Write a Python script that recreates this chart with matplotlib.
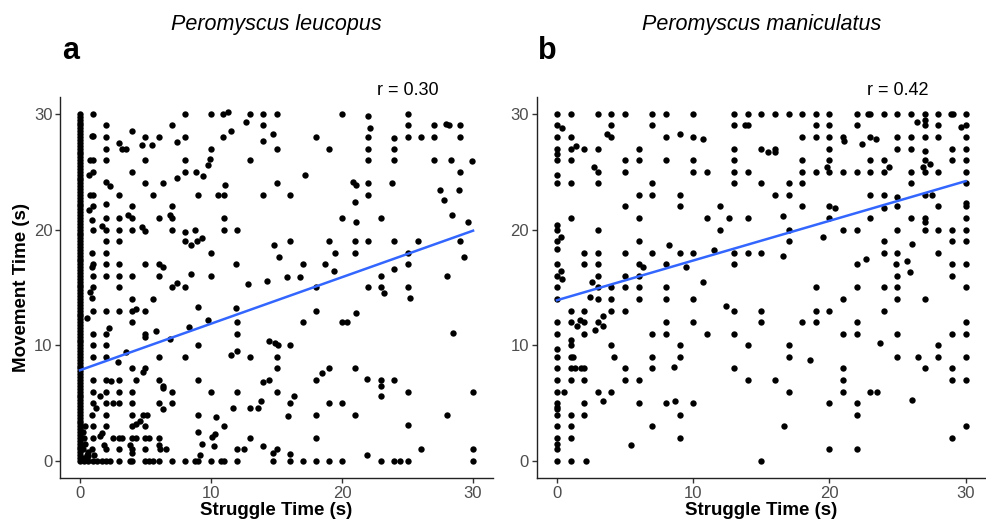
import numpy as np, matplotlib; matplotlib.use('Agg'); import matplotlib.pyplot as plt
plt.rcParams['font.family'] = ['Liberation Sans', 'DejaVu Sans']

# P. leucopus: (struggle s, movement s)
leuco_col0 = [i * 0.25 for i in range(121)]   # dense column at x=0
leuco_pts = [
 (1,30),(8,30),(10,30),(10.9,30),(11.3,30.2),(13,30),(14,30),(12.7,29.3),(2,29),(7,29),(14,29),
 (0.9,28.1),(1,28.1),(2,28),(3.95,28.5),(5,28),(6,28),(8,28),(10.9,28),(11.5,28.5),(14,27.7),
 (3,27.5),(2,27),(3.2,27),(3.5,27),(4.7,27.3),(5.5,27.3),(7.4,27.6),(10,27),
 (1,26),(0.8,26),(2,26),(5,26),(8,26),(9.9,26.1),(13,26),(9.8,25.6),
 (1,25),(0.7,24.7),(4,25),(8,25),(7.4,24.5),(8.85,25),(9.4,24.6),
 (2,24.1),(2.3,23.8),(5,24),(6.3,24),(11.1,23.9),
 (1,23),(0.8,23),(3,23),(5.6,23),(9,23),(10.5,23),(11,23),(14,23),
 (1,22),(2,22.2),(0.7,21.7),(4,22),(7,22),
 (0.9,20.8),(2,21),(3,21),(3.7,21.3),(4,21),(6,21),(6.9,21.3),(7,21),(11,21),
 (1,20),(1.7,20.3),(2,20),(3,20),(4,20),(4.7,20.2),(5,19.9),(7,20),(8,19.8),(8.8,20),(11,20),(12,20),
 (2,19),(3,19),(8,19),(8.5,18.7),(8.95,19),(9.35,19.3),(0.9,18),(2,18),(10,18),
 (1,17),(0.9,16.8),(2,17),(3,17),(5,17),(6,17),(6.3,16.8),(11.9,17),
 (1,16),(2,16),(3,16),(4,16),(6,16),(8.5,16.2),(10,16),(14.25,15.6),(12.8,15.3),
 (1,15),(3,15),(7,15),(7.4,15.4),(8,15),
 (15,30),(20,30),(25,30),(22,29.8),(22.1,28.8),(25,29),(27,29),(27.9,29.1),(28.2,29),(29,29),
 (14.75,28.3),(18,28),(22,28),(24,27.9),(25,28),(26,28),(27,28),(29,28),
 (15,27),(19,27),(22,27),(24,27),(22,26),(24,26),(27,26),(28.3,26),(29.9,25.9),
 (29,25),(17.2,24.7),(15,24),(20.8,24.1),(21.1,23.9),(22,24),(23.8,24),
 (27.5,23.4),(28.9,23.4),(16,23),(22,23),(27.8,22.6),(21,22.4),(28.4,21.3),
 (20,21),(23,21),(29.6,20.7),(21.1,20.7),
 (16,19),(19,19),(21,19),(22,19),(24,19),(25.8,19),(29,19),(14.8,18.7),
 (19.5,18),(21,18),(25,18),(15.2,17.6),(29.3,17.6),(17,17),(18.7,17),(25,17),
 (24,16.6),(19.4,16.4),(23,16),(28,16),(15.8,15.9),(16.8,15.9),
 (18,15),(22,15),(23,15),(25,15),
 (0.8,14.6),(0.9,14.1),(4,14),(5.6,14),(9,13.3),(11.9,13.2),
 (1,13),(2,13),(3,13),(4,13),(4.3,13.1),(5,13),(0.5,12.4),(9.75,12.2),(4,12),(12,12),
 (8.3,11.6),(2.2,11.5),(1,11),(2,11),(5,11),(5.8,11.2),(12,11),
 (4.95,10.7),(6.9,10.55),(14.4,10.4),(1,10),(2,10),(9,10),
 (12,9.5),(11.5,9.2),(3.5,9.4),(1,9),(2,9),(6,9),(8,9),(13,9),(2.9,8.6),
 (4,8),(5,8),(4.8,7.7),(1,7),(2,7),(2.4,6.9),(3,7),(4.3,7),(6,7),(9,7),(14,6.8),
 (6.3,6.5),(6.35,6.3),(1,6),(2,6),(3,6),(4,6),(7,6),(10,6),(12,6),(1.5,5.6),(13.85,5.2),
 (1,5),(2,5),(2.5,5),(3,5),(4,5),(6,5),(7,5),
 (1.2,4.6),(6.3,4.5),(11.7,4.6),(13,4.6),(13.6,4.6),
 (0.9,4),(2,4),(4,4),(4.8,4),(5.1,4),(9,4),(10.4,3.8),
 (4.6,3.5),(4.3,3.2),(4,3),(1,3),(2,3),(5,3),(11,3),
 (9,2.5),(1.7,2.4),(1.5,2.2),(10.3,2.3),(10.1,2.05),
 (1,2),(2.5,2),(3,2),(3.2,2),(4,2),(4.3,2),(5,2),(5.3,2),(6,2),(13,2),
 (9.35,1.5),(10.2,1.3),(14,1.3),(1.8,1.4),(3.8,1.4),(6,1.4),
 (0.9,1),(2,1),(3,1),(4,1),(5,1),(6.1,1),(6.6,1),(12,1),(12.5,1),(9.15,0.5),
 (4,0.7),(0.5,0.5),(1.1,0.5),
 (0.3,0),(0.6,0),(1,0),(1.3,0),(1.7,0),(2,0),(2.3,0),(3,0),(3.8,0),(4,0),(5,0),(5.3,0),
 (5.6,0),(6,0),(7,0),(8,0),(8.8,0),(9,0),(10,0),(10.8,0),(11,0),(12,0),
 (0.3,0.3),(0.6,0.4),(0.2,1),(0.4,1.5),(0.3,2),(0.6,0.8),(0.2,2.5),(0.4,3),(0.2,0.2),
 (23.2,14.5),(25.2,14.1),(18,13),(21.1,12.8),(17,12),(20,12),(20.4,12),(28.5,11.1),
 (14.9,10.2),(15.1,10),(16,10),(15,9),(15,8),(19,8),(21,8),(18.5,7.6),(21.9,7.1),
 (14.4,7),(18,7),(23,7),(24,7),(23,6.5),(15,6),(25,6),(30,6),(16.3,5.6),(23,5.6),
 (16,5),(19,5),(20,5),(15.9,3.9),(18,4),(21,4),(28,4),(25,3.1),(18,2),
 (15,1),(26,1),(30,1),(14.75,0.7),(16,0.6),(21.9,0.5),
 (14.75,0),(16,0),(17,0),(18,0),(19,0),(20,0),(23,0),(24,0),(24.4,0),(25,0),(30,0),
]

# P. maniculatus, panel b
manic_pts = [
 (0,30),(1,30),(3,30),(4,30),(5,30),(7,30),(8,30),(10,30),(13,30),(14,30),
 (0,29),(0.4,28.8),(4,29),(7,29),(13,29),(13.8,29),(14,29),
 (0,28),(1,28),(3.65,28.3),(4,28),(8,28),(9,28.3),(10,28),(10.75,27.8),
 (0,27),(1,27),(1.4,27.2),(2,27),(3,27),(6,27),(13,27),(0,26.5),
 (0,26),(1,26),(5,26),(6,26),(8,26),(10,26),(13,26),(2.7,25.4),
 (3,25),(5,25),(10,25),(11,25),(13,25),(14,25),(0,24.7),
 (0,24),(1,24),(3,24),(7,24),(13,24),(6,23),(7,23),(9,23),(5,22),(9,22),(12,22),
 (1,21),(6,21),(11,21),(12.6,21),(14,21),(0,20.4),(0,20),(3,20),(12,20),
 (0.3,19.4),(0,19),(6,19),(8.2,18.7),
 (0,18.3),(2,18),(3,18),(5,18),(7,18),(9,18),(10,18),(11.5,18.2),(13,18),(14,18),
 (0,17),(2,17),(3,17),(6,17),(6.35,16.8),(8,17),(9.5,16.8),(13,17),
 (0.3,16.4),(0,16),(0.4,15.7),(3,16),(5,16),(6,16),(2.55,15.5),(10.7,15.5),
 (0,15),(3,15),(4,15),(5,15),(6,15),(8,15),
 (15,30),(16,30),(17,30),(18,30),(19,30),(20,30),(22,30),(22.8,30),(23,30),(24,30),(25,30),
 (26,30),(27,30),(28,30),(28.9,30),(29.1,30),(30,30),
 (19,29),(20,29),(22,29),(26.4,29.3),(27,29.5),(27,29),(28,29),(29.7,28.9),(30,29),
 (18,28),(19,28),(20,28),(21,28),(21.1,27.7),(23,28),(23.4,27.8),(25,28),(26,28),(27,28),(28,28),(30,28),
 (22.4,27.4),(15,27),(16,27),(15.5,26.7),(16,26.7),(20,27),(25,27),(26,27),(29,27),(30,27),(27,26.8),
 (18,26),(20,26),(23,26),(24,26),(27,26),(29,26),(30,26),(27.4,25.7),
 (19.8,25.4),(24.4,25.4),(26.9,25.4),
 (18,25),(19,25),(20,25),(21,25),(22,25),(23,25),(24,25),(26,25),(27,25),(28,25),(30,25),
 (15,24),(17,24),(18,24),(26,24),(30,24),(16,23),(17,23),(23,23),(24,23),(27,23),(27.5,23),(25,22.8),
 (18,22),(20,22),(20.4,21.9),(24,21.9),(25,22),(28,22),(30,22.3),(30,22),
 (16.6,21.2),(20,21),(23,21),(26,21),(27,21),(27,20.7),(30,21),
 (17,20),(21,20),(22,20),(25,20),(27,20),(28,20),(29,20),(30,20),(19.5,19.4),
 (17,19),(24,19),(29,19),(30,19),(26.1,18.8),(15,18),(24,18),(25,18),(28,18),
 (16.6,17.7),(22.7,17.5),(25.7,17.3),(22,17),(24.9,17),(29,17),(30,17),
 (25.9,16.3),(25,16),(29,16),(19,15),(22,15),(24,15),(25,15),(30,15),
 (0,14),(2.45,14.15),(3,14),(4,14),(6,14),(8,14),(10,14),(12.4,13.4),(13,13),
 (1,13),(2,13),(4,13),(5,13),(3.4,12.5),(1.7,12.2),
 (0,12),(1,12),(2,12),(3,12),(8,12),(10,12),(1.5,11.7),(3.4,11.7),(2.8,11.3),
 (0,11),(2,11),(7,11),(8,11),(11,11),(13,11),(1.05,10.5),(1,10),(4,10),(9,10),(14,10),(0,9.7),
 (0,9),(1,9),(1.2,9),(4.2,9),(7,9),(9,9),
 (0,8),(1,8),(1.3,8),(1.8,8),(2,8),(5,8),(7,8),(8.6,8.15),(13,8),
 (0,7),(1,7),(2,7),(5,7),(6,7),(14,7),(0,6),(0.5,6),(3,6),(4,6),(3.4,5.2),(8.7,5.2),
 (0,5),(2,5),(6,5),(8,5),(10,5),(0,4.7),(0,4.5),(0,4),(1,4),(2,4),(9,4),
 (0,3),(1,3),(7,3),(0,2),(1,2),(9,2),(0,1.5),(5.45,1.4),(0,1),(0,0),(1,0),(2.1,0),
 (21,14),(25,14),(27,14),(15,13),(19,13),(20,13),(24,13),
 (15,12),(18,12),(19,12),(22,12),(30,12),(21,11),(22,11),(25,11),(29,11),(30,11),
 (17,10),(23.7,10.2),(28,10),(17,9),(18.6,8.7),(25,9),(26.5,9),(28,9),(30,9),
 (21,8),(27,8),(29,8),(16,7),(21,7),(29,7),(30,7),(17,6),(21,6),(23,6),(23.5,6),(26.1,5.3),
 (20,5),(22,5),(22,4),(16.7,3),(30,3),(29,2),(20,1),(22,1),(15,0),
]

species = ["Peromyscus leucopus", "Peromyscus maniculatus"]
panel_tags = ["a", "b"]
r_vals = [0.30, 0.42]
fit_a = (7.85, 0.402)   # intercept, slope
fit_b = (13.9, 0.343)
ticks = [0, 10, 20, 30]

la = np.array(leuco_pts + [(0, y) for y in leuco_col0])
mb = np.array(manic_pts)

fig = plt.figure(figsize=(9.87, 5.22), dpi=100)
axa = fig.add_axes([0.0611, 0.0835, 0.4381, 0.7315])
axb = fig.add_axes([0.5436, 0.0835, 0.4554, 0.7315])
for ax, pts, fit, sp, tag, r in zip((axa, axb), (la, mb), (fit_a, fit_b), species, panel_tags, r_vals):
    ax.scatter(pts[:, 0], pts[:, 1], s=21, c='black', lw=0, zorder=2)
    xs = np.array([0, 30])
    ax.plot(xs, fit[0] + fit[1] * xs, color='#3366FF', lw=1.8, zorder=3)
    ax.set_xlim(-1.5, 31.5); ax.set_ylim(-1.5, 31.5)
    ax.set_xticks(ticks); ax.set_yticks(ticks)
    for s in ('top', 'right'): ax.spines[s].set_visible(False)
    for s in ('left', 'bottom'): ax.spines[s].set_color('#222222'); ax.spines[s].set_linewidth(1.0)
    ax.tick_params(length=3.5, width=1, color='#333333', labelcolor='#4D4D4D', labelsize=12, pad=2)
    ax.text(25, 32, f"r = {r:.2f}", ha='center', va='center', fontsize=13)
    ax.text(0.5, 1.1875, sp, transform=ax.transAxes, ha='center', va='center', fontsize=15.5, style='italic')
    ax.text(0.004, 1.098, tag, transform=ax.transAxes, ha='left', va='baseline', fontsize=22, fontweight='bold')
    ax.set_xlabel("Struggle Time (s)", fontsize=13.5, fontweight='bold')
    ax.xaxis.set_label_coords(0.5, -0.085); ax.xaxis.label.set_va('center')
axa.set_ylabel("Movement Time (s)", fontsize=13.5, fontweight='bold')
axa.yaxis.set_label_coords(-0.089, 0.5); axa.yaxis.label.set_va('center')
fig.savefig("out.png", dpi=100)
